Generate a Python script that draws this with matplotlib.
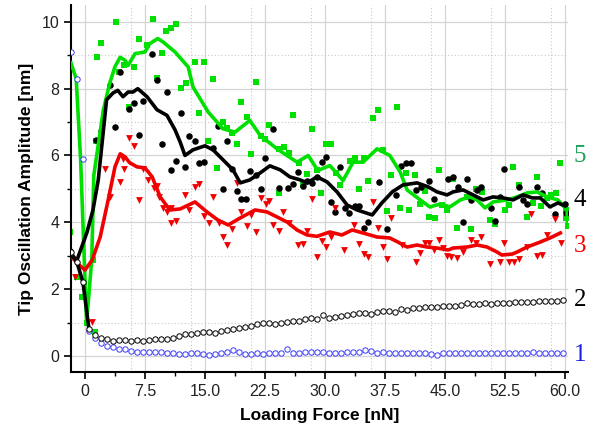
import numpy as np
import matplotlib
matplotlib.use("Agg")
import matplotlib.pyplot as plt
from matplotlib.ticker import MultipleLocator, FixedLocator

plt.rcParams['font.family'] = ['Liberation Sans', 'DejaVu Sans']

# ---- dados ----
# curvas 1 e 2 (círculos abertos), amostradas a cada 0.75 nN
x_circ = np.arange(-1.75, 60.0, 0.75)
y1 = [9.10, 8.30, 5.90, 0.75, 0.55, 0.38, 0.30, 0.28, 0.20, 0.20,
      0.15, 0.12, 0.13, 0.12, 0.12, 0.13, 0.10, 0.08, 0.05, 0.07,
      0.10, 0.10, 0.06, 0.02, 0.07, 0.10, 0.12, 0.18, 0.12, 0.07,
      0.07, 0.08, 0.07, 0.10, 0.10, 0.08, 0.20, 0.10, 0.08, 0.12,
      0.12, 0.12, 0.13, 0.10, 0.09, 0.10, 0.12, 0.11, 0.12, 0.17,
      0.15, 0.10, 0.13, 0.10, 0.10, 0.09, 0.10, 0.08, 0.10, 0.10,
      0.07, 0.04, 0.08, 0.10, 0.09, 0.09, 0.08, 0.09, 0.08, 0.10,
      0.10, 0.09, 0.08, 0.09, 0.10, 0.10, 0.09, 0.11, 0.09, 0.08,
      0.08, 0.09, 0.08]
y2 = [3.10, 2.80, 2.20, 0.80, 0.62, 0.55, 0.50, 0.45, 0.47, 0.48,
      0.46, 0.49, 0.46, 0.47, 0.52, 0.51, 0.50, 0.55, 0.60, 0.65,
      0.67, 0.69, 0.73, 0.72, 0.70, 0.76, 0.78, 0.80, 0.84, 0.88,
      0.90, 0.97, 0.98, 1.00, 0.96, 0.98, 1.02, 1.05, 1.04, 1.10,
      1.13, 1.10, 1.22, 1.15, 1.17, 1.20, 1.23, 1.25, 1.27, 1.28,
      1.26, 1.31, 1.33, 1.35, 1.30, 1.40, 1.37, 1.42, 1.43, 1.45,
      1.46, 1.47, 1.48, 1.50, 1.49, 1.52, 1.57, 1.54, 1.55, 1.57,
      1.56, 1.57, 1.58, 1.57, 1.60, 1.60, 1.61, 1.62, 1.63, 1.63,
      1.64, 1.65, 1.67]

# curva 3 (vermelho) - pontos
x3_pts = [-1.25, 0.84, 2.5, 3.1, 4.4, 4.8, 4.9, 5.5, 6.1, 6.8, 7.2, 7.9, 8.6, 9.0,
          9.3, 9.8, 10.3, 10.7, 10.8, 11.4, 12.5, 13.0, 13.7, 14.3, 14.9, 15.5,
          16.0, 16.7, 17.2, 17.8, 18.4, 19.0, 19.5, 20.2, 20.75, 21.4, 22.0,
          22.6, 23.0, 23.5, 24.2, 24.8, 25.5, 26.6, 27.2, 27.8, 28.4, 29.0,
          29.6, 30.1, 30.7, 31.25, 32.4, 33.6, 34.3, 34.9, 35.4, 36.0, 36.6,
          37.2, 37.8, 38.3, 39.6, 41.4, 41.9, 42.5, 43.0, 43.6, 44.25, 44.8,
          45.3, 45.8, 46.5, 47.2, 48.3, 48.9, 49.5, 50.6, 51.9, 52.4, 53.0,
          53.6, 54.25, 55.3, 55.8, 56.5, 57.1, 57.7, 58.8, 59.5]
y3_pts = [2.37, 1.03, 5.59, 4.75, 5.22, 5.89, 5.59, 6.52, 6.27, 4.67, 5.59, 5.27, 5.02, 5.09,
          4.77, 4.42, 4.32, 3.97, 4.42, 4.04, 4.82, 4.37, 5.07, 5.14, 4.19, 3.97,
          4.75, 3.97, 3.57, 3.32, 3.79, 5.19, 4.32, 3.89, 4.22, 3.72, 4.72,
          4.55, 4.65, 3.92, 3.75, 4.32, 3.97, 3.32, 3.35, 3.75, 4.69, 2.95,
          3.45, 3.27, 3.57, 4.42, 3.17, 3.92, 3.35, 3.05, 2.97, 4.62, 3.84,
          3.27, 2.90, 4.12, 3.32, 2.82, 3.07, 3.39, 3.37, 3.17, 3.47, 3.22,
          2.99, 2.97, 2.92, 3.12, 3.47, 3.39, 3.57, 2.75, 2.80, 3.37, 2.80,
          2.82, 2.89, 3.27, 4.24, 2.99, 3.02, 3.62, 4.09, 3.37]
x3_line = [-1.75, -1.0, 0.0, 0.9, 1.9, 2.9, 3.75, 4.4, 5.0, 5.6, 6.5, 7.5, 8.4, 9.4,
           10.6, 11.9, 13.75, 15.25, 16.6, 17.9, 19.4, 21.25, 22.75, 24.0, 25.25,
           26.5, 27.75, 29.0, 30.6, 32.1, 33.4, 34.75, 36.5, 38.1, 39.1, 40.25,
           41.5, 42.75, 44.0, 45.4, 46.0, 47.75, 49.0, 50.25, 51.5, 52.1, 53.4,
           54.0, 55.25, 56.9, 58.1, 59.4]
y3_line = [3.00, 2.78, 2.57, 2.87, 3.56, 4.67, 5.66, 6.05, 5.96, 5.78, 5.66, 5.63, 5.36, 4.76,
           4.37, 4.40, 4.61, 4.31, 4.07, 3.92, 4.13, 4.37, 4.31, 4.16, 4.01,
           3.77, 3.62, 3.58, 3.71, 3.62, 3.77, 3.68, 3.56, 3.53, 3.41, 3.26,
           3.32, 3.26, 3.23, 3.17, 3.23, 3.26, 3.32, 3.26, 3.11, 3.02, 3.05,
           3.11, 3.26, 3.41, 3.53, 3.68]

# curva 4 (preto) - pontos
x4_pts = [-1.9, 1.4, 1.96, 3.1, 3.75, 4.4, 5.5, 6.1, 6.75, 7.2, 8.4, 8.96, 9.6, 10.2,
          10.8, 11.4, 11.96, 12.5, 13.0, 13.75, 14.3, 14.9, 16.0, 16.6, 17.2, 17.8,
          18.4, 19.0, 19.5, 20.1, 20.6, 21.4, 22.0, 22.5, 23.5, 24.2, 25.4, 26.0,
          26.6, 27.2, 27.8, 28.4, 29.0, 29.6, 30.1, 30.7, 31.25, 31.9, 32.5, 33.0,
          33.7, 34.3, 34.9, 35.4, 36.7, 37.8, 38.9, 39.5, 40.1, 40.7, 41.4, 42.0,
          43.0, 43.6, 45.4, 46.0, 46.6, 47.2, 47.7, 48.3, 49.0, 49.5, 50.7, 51.25,
          51.9, 52.4, 54.2, 54.7, 55.3, 56.5, 57.1, 58.8, 60.0, 60.1]
y4_pts = [3.15, 6.47, 6.72, 8.11, 6.84, 8.49, 7.39, 7.58, 6.60, 7.63, 9.04, 8.26, 6.35, 7.91,
          5.57, 5.84, 7.26, 5.67, 6.59, 6.42, 5.77, 5.82, 6.21, 6.87, 4.99, 6.42,
          5.59, 4.94, 4.69, 4.69, 5.55, 5.42, 4.99, 5.92, 6.79, 5.02, 5.02, 5.15,
          5.52, 5.09, 5.25, 5.19, 5.35, 5.82, 5.95, 4.62, 4.32, 5.67, 4.42, 4.27,
          4.49, 4.49, 3.82, 4.02, 5.22, 3.79, 4.82, 5.70, 5.79, 5.79, 4.97, 5.07,
          5.25, 4.69, 5.29, 5.37, 5.05, 4.00, 5.30, 4.67, 4.97, 5.05, 4.42, 4.05,
          4.77, 5.59, 5.05, 4.67, 4.55, 5.05, 4.87, 4.25, 4.55, 4.29]
x4_line = [-1.75, -1.0, 0.25, 1.0, 1.66, 2.7, 3.5, 4.1, 4.75, 5.4, 6.0, 6.6, 7.75, 9.0,
           10.25, 11.25, 11.9, 12.5, 13.5, 15.0, 16.0, 17.25, 18.5, 19.4, 20.6, 21.9,
           23.1, 24.4, 25.6, 26.9, 27.75, 29.0, 30.25, 31.5, 32.75, 34.0, 35.9,
           37.1, 38.4, 39.75, 41.5, 42.9, 44.0, 45.25, 46.0, 47.25, 48.5, 49.75,
           51.0, 52.25, 53.5, 54.75, 55.9, 56.9, 58.1, 59.1, 60.0]
y4_line = [3.00, 2.87, 3.70, 4.37, 5.27, 7.67, 7.87, 7.95, 7.76, 7.90, 7.90, 8.00, 7.76, 7.37,
           7.20, 6.77, 6.40, 6.00, 6.17, 6.29, 6.17, 5.87, 5.57, 5.18, 5.27, 5.48,
           5.69, 5.57, 5.36, 5.27, 5.18, 5.36, 5.21, 4.91, 4.52, 4.37, 4.22,
           4.58, 4.91, 5.12, 5.18, 5.06, 4.91, 4.82, 4.91, 4.97, 4.82, 4.67,
           4.76, 4.73, 4.67, 4.82, 4.73, 4.73, 4.46, 4.58, 4.49]

# curva 5 (verde) - pontos
x5_pts = [-1.9, -1.04, -0.42, 0.2, 0.96, 1.3, 1.4, 1.46, 1.96, 3.84, 4.29, 4.9, 5.5, 6.1,
          6.7, 7.8, 8.5, 8.96, 9.6, 10.1, 10.75, 11.4, 11.96, 12.6, 13.75, 14.3,
          14.9, 15.4, 16.0, 16.5, 17.2, 17.8, 18.4, 19.0, 19.5, 20.2, 20.75, 21.4,
          22.0, 22.5, 23.0, 24.2, 24.2, 24.9, 25.5, 26.0, 26.7, 27.2, 27.8, 28.4,
          29.0, 29.5, 30.1, 30.7, 31.4, 31.9, 33.1, 33.75, 34.3, 34.9, 35.4, 36.0,
          36.6, 37.2, 37.8, 38.3, 39.0, 39.4, 40.1, 40.5, 41.25, 41.9, 42.5, 43.0,
          43.75, 44.2, 44.6, 45.2, 46.0, 46.5, 47.7, 48.3, 48.9, 49.6, 50.6, 51.2,
          52.5, 53.0, 53.5, 54.25, 55.3, 56.0, 56.5, 57.0, 57.7, 58.3, 58.9, 59.4,
          60.1, 60.1, 60.3]
y5_pts = [3.70, 2.37, 1.75, 0.98, 2.87, 0.73, 6.42, 8.94, 9.36, 9.99, 8.49, 8.71, 7.46, 8.64,
          9.48, 9.30, 10.09, 8.31, 9.06, 9.74, 9.82, 9.93, 8.01, 8.18, 8.81, 7.26,
          8.81, 6.42, 8.28, 5.62, 6.99, 6.82, 6.67, 6.35, 7.61, 7.16, 6.04, 8.19,
          6.59, 6.49, 6.92, 6.19, 4.89, 6.25, 6.07, 7.22, 5.79, 5.12, 5.45, 6.79,
          5.57, 4.89, 6.35, 6.35, 5.47, 5.12, 5.85, 5.92, 4.99, 5.92, 5.25, 7.11,
          7.37, 6.17, 4.35, 5.42, 7.44, 4.42, 5.49, 4.37, 5.42, 4.55, 4.95, 4.17,
          4.12, 5.57, 4.52, 4.37, 5.30, 3.82, 4.77, 3.79, 4.99, 4.92, 4.07, 3.95,
          4.37, 4.52, 5.65, 5.12, 4.17, 4.57, 5.37, 4.49, 4.72, 4.82, 4.89, 5.77,
          4.37, 4.12, 3.90]
x5_line = [-1.75, -1.1, -0.55, 0.2, 0.85, 1.1, 2.3, 3.1, 3.75, 4.4, 5.0, 5.4, 6.25, 7.5,
           8.1, 9.1, 9.75, 11.25, 12.9, 13.5, 15.4, 17.25, 18.75, 20.6, 21.9, 24.0,
           26.5, 27.9, 29.1, 30.6, 32.25, 33.5, 34.75, 36.5, 38.1, 39.4, 40.25,
           41.9, 43.1, 44.4, 45.6, 46.9, 48.1, 49.0, 50.0, 51.0, 52.75, 54.0,
           55.25, 56.5, 57.75, 59.1, 60.25, 60.3]
y5_line = [8.77, 8.30, 5.90, 1.00, 2.90, 5.40, 7.37, 8.17, 8.66, 8.94, 8.85, 8.70, 9.05, 9.10,
           9.35, 9.50, 9.40, 9.10, 8.65, 8.05, 7.30, 6.80, 6.70, 7.05, 6.60, 6.20,
           5.80, 6.00, 5.55, 5.70, 5.25, 5.80, 5.80, 6.20, 6.00, 5.50, 4.97,
           4.67, 4.46, 4.55, 4.46, 4.67, 4.76, 4.67, 4.43, 4.61, 4.67, 4.76,
           4.88, 4.91, 4.76, 4.67, 4.37, 3.90]

curve_labels = ['1', '2', '3', '4', '5']
label_colors = ['#2020e0', 'black', '#f00000', 'black', '#1fa35a']
label_y = [0.02, 1.68, 3.30, 4.68, 5.98]

green = '#00e000'
red = '#f00000'
blue = '#3a3aff'

fig = plt.figure(figsize=(5.89, 4.32), dpi=100)
ax = fig.add_axes([0.1205, 0.139, 0.843, 0.849])

xmin, xmax = -1.75, 60.3
ymin, ymax = -0.48, 10.5

# grade
for xv in np.arange(0, 60.1, 7.5):
    ax.axvline(xv, color='#d4d4d4', lw=0.9, zorder=0)
for xv in np.arange(-1.75 + 7.5, 60.1, 7.5):
    ax.axvline(xv, color='#c8c8c8', lw=0.8, ls=(0, (1, 2)), zorder=0)
for yv in range(0, 11, 2):
    ax.axhline(yv, color='#d4d4d4', lw=0.9, zorder=0)
for yv in range(1, 10, 2):
    ax.axhline(yv, color='#c8c8c8', lw=0.8, ls=(0, (1, 2)), zorder=0)

# pontos
ax.scatter(x5_pts, y5_pts, marker='s', s=20, color=green, lw=0, zorder=2)
ax.scatter(x4_pts, y4_pts, marker='o', s=22, color='black', lw=0, zorder=2)
ax.scatter(x3_pts, y3_pts, marker='v', s=24, color=red, lw=0, zorder=2)

# curvas suavizadas
ax.plot(x5_line, y5_line, color=green, lw=2.6, zorder=3, solid_joinstyle='round')
ax.plot(x3_line, y3_line, color=red, lw=2.6, zorder=3, solid_joinstyle='round')
ax.plot(x4_line, y4_line, color='black', lw=2.6, zorder=4, solid_joinstyle='round')
ax.plot(x_circ[:4], y2[:4], color='black', lw=2.6, zorder=4)

# círculos abertos
ax.scatter(x_circ, y1, marker='o', s=15, facecolor='white', edgecolor=blue, lw=0.7, zorder=5)
ax.scatter(x_circ, y2, marker='o', s=15, facecolor='white', edgecolor='black', lw=0.7, zorder=5)

# rótulos das curvas à direita
for lab, c, yv in zip(curve_labels, label_colors, label_y):
    ax.text(1.012, (yv - ymin) / (ymax - ymin), lab, transform=ax.transAxes,
            color=c, fontsize=18, family=['Liberation Serif', 'DejaVu Serif'],
            ha='left', va='center')

ax.set_xlim(xmin, xmax)
ax.set_ylim(ymin, ymax)
ax.xaxis.set_major_locator(FixedLocator(np.arange(0, 60.1, 7.5)))
ax.xaxis.set_minor_locator(MultipleLocator(3.75))
ax.yaxis.set_major_locator(MultipleLocator(2))
ax.yaxis.set_minor_locator(MultipleLocator(1))
ax.set_xticklabels(['0'] + ['%.1f' % v for v in np.arange(7.5, 60.1, 7.5)])

for s in ['top', 'right']:
    ax.spines[s].set_visible(False)
for s in ['left', 'bottom']:
    ax.spines[s].set_linewidth(1.5)
ax.tick_params(which='major', direction='out', length=5, width=1.2, labelsize=11.5, colors='black')
ax.tick_params(which='minor', direction='out', length=3, width=1.0)
ax.tick_params(axis='x', labelcolor='#222222')
ax.tick_params(axis='y', labelcolor='#222222')

ax.set_xlabel('Loading Force [nN]', fontsize=12.5, fontweight='bold', labelpad=7)
ax.set_ylabel('Tip Oscillation Amplitude [nm]', fontsize=12.5, fontweight='bold', labelpad=5)

fig.savefig('out.png', dpi=100)
